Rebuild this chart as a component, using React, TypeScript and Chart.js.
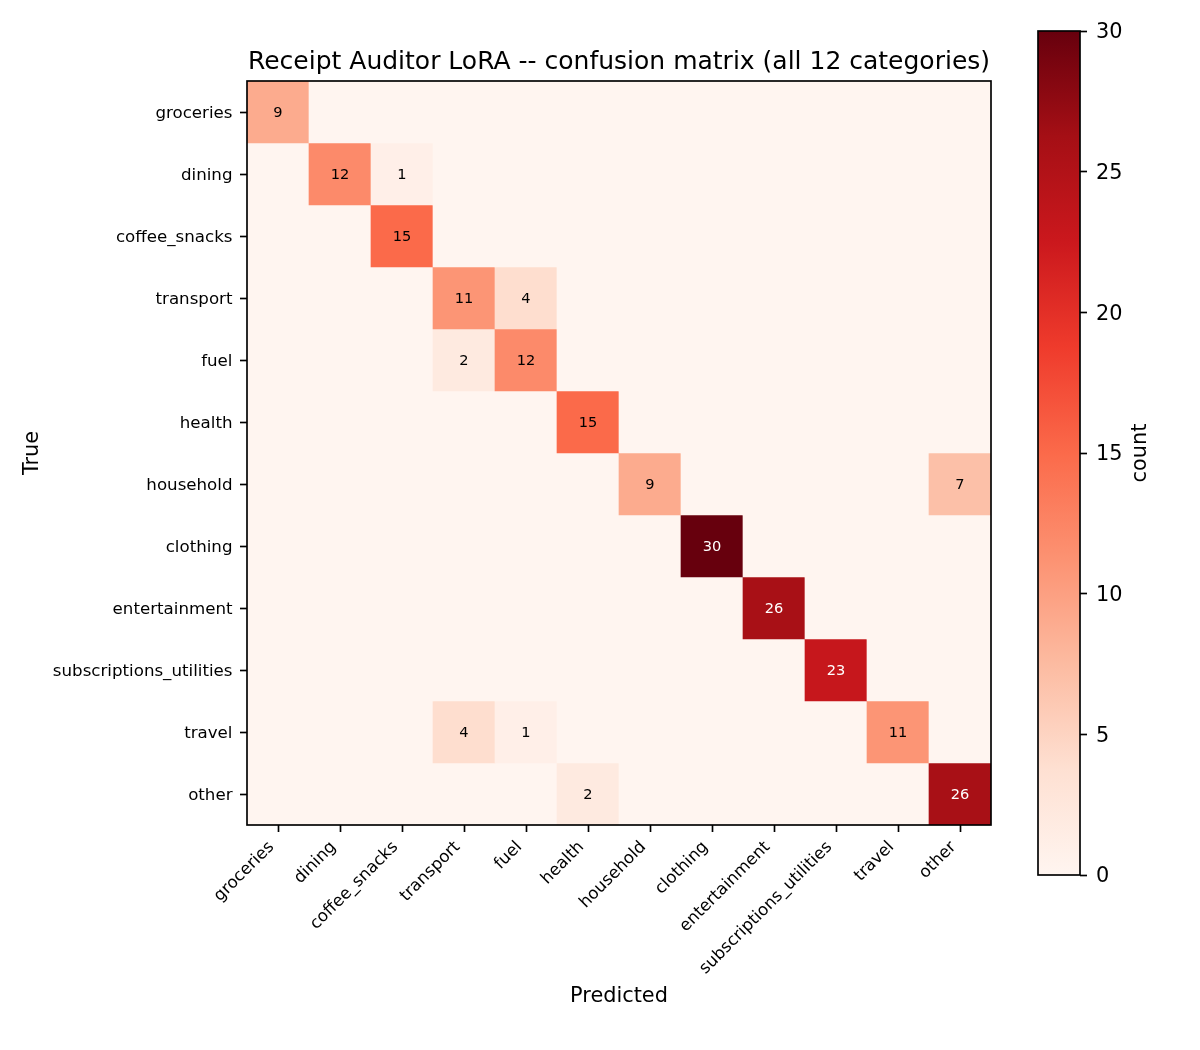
import { useEffect, useRef } from 'react';
import { Chart, registerables } from 'chart.js';

Chart.register(...registerables);

const FONT = '"DejaVu Sans", "Liberation Sans", sans-serif';
Chart.defaults.font.family = FONT;
Chart.defaults.color = '#000';

// Category order shared by both axes
const categories = [
  'groceries',
  'dining',
  'coffee_snacks',
  'transport',
  'fuel',
  'health',
  'household',
  'clothing',
  'entertainment',
  'subscriptions_utilities',
  'travel',
  'other',
];

// One row per true class; columns follow the predicted class order above
const groceriesRow = [9, 0, 0, 0, 0, 0, 0, 0, 0, 0, 0, 0];
const diningRow = [0, 12, 1, 0, 0, 0, 0, 0, 0, 0, 0, 0];
const coffeeSnacksRow = [0, 0, 15, 0, 0, 0, 0, 0, 0, 0, 0, 0];
const transportRow = [0, 0, 0, 11, 4, 0, 0, 0, 0, 0, 0, 0];
const fuelRow = [0, 0, 0, 2, 12, 0, 0, 0, 0, 0, 0, 0];
const healthRow = [0, 0, 0, 0, 0, 15, 0, 0, 0, 0, 0, 0];
const householdRow = [0, 0, 0, 0, 0, 0, 9, 0, 0, 0, 0, 7];
const clothingRow = [0, 0, 0, 0, 0, 0, 0, 30, 0, 0, 0, 0];
const entertainmentRow = [0, 0, 0, 0, 0, 0, 0, 0, 26, 0, 0, 0];
const subscriptionsRow = [0, 0, 0, 0, 0, 0, 0, 0, 0, 23, 0, 0];
const travelRow = [0, 0, 0, 4, 1, 0, 0, 0, 0, 0, 11, 0];
const otherRow = [0, 0, 0, 0, 0, 2, 0, 0, 0, 0, 0, 26];

const confusion = [
  groceriesRow,
  diningRow,
  coffeeSnacksRow,
  transportRow,
  fuelRow,
  healthRow,
  householdRow,
  clothingRow,
  entertainmentRow,
  subscriptionsRow,
  travelRow,
  otherRow,
];

const countMin = 0;
const countMax = 30;
const colorbarTicks = [0, 5, 10, 15, 20, 25, 30];

const TITLE = 'Receipt Auditor LoRA -- confusion matrix (all 12 categories)';

// Sequential "Reds" palette, evenly spaced stops
const REDS = [
  '#fff5f0', '#fee0d2', '#fcbba1', '#fc9272', '#fb6a4a',
  '#ef3b2c', '#cb181d', '#a50f15', '#67000d',
];

function hexToRgb(h: string): number[] {
  return [1, 3, 5].map((i) => parseInt(h.slice(i, i + 2), 16));
}

function reds(t: number): string {
  const c = Math.max(0, Math.min(1, t)) * (REDS.length - 1);
  const i = Math.min(Math.floor(c), REDS.length - 2);
  const f = c - i;
  const a = hexToRgb(REDS[i]);
  const b = hexToRgb(REDS[i + 1]);
  const m = a.map((v, k) => Math.round(v + (b[k] - v) * f));
  return `rgb(${m[0]}, ${m[1]}, ${m[2]})`;
}

const LINE_W = 1.67;
const TICK_LEN = 7;

const tickGrid = {
  display: true,
  drawOnChartArea: false,
  drawTicks: true,
  tickLength: TICK_LEN,
  tickWidth: LINE_W,
  tickColor: '#000',
  offset: false,
};

// Cell values and the frame around the matrix
const cellLabels = {
  id: 'cellLabels',
  afterDatasetsDraw(chart: any) {
    const { ctx, chartArea: a, scales } = chart;
    const xs = scales.x;
    const ys = scales.y;
    ctx.save();
    ctx.font = `14.58px ${FONT}`;
    ctx.textAlign = 'center';
    ctx.textBaseline = 'middle';
    confusion.forEach((row, r) => {
      row.forEach((v, c) => {
        if (v <= 0) return;
        ctx.fillStyle = v > countMax / 2 ? '#fff' : '#000';
        ctx.fillText(String(v), xs.getPixelForValue(c), ys.getPixelForValue(r) + 1);
      });
    });
    ctx.strokeStyle = '#000';
    ctx.lineWidth = LINE_W;
    ctx.strokeRect(a.left, a.top, a.right - a.left, a.bottom - a.top);
    ctx.restore();
  },
};

function matrixConfig(): any {
  const datasets = confusion.map((row, r) => ({
    label: categories[r],
    data: row.map(() => [r - 0.5, r + 0.5]),
    backgroundColor: row.map((v) => reds((v - countMin) / (countMax - countMin))),
    borderWidth: 0,
    barPercentage: 1,
    categoryPercentage: 1,
    grouped: false,
  }));
  return {
    type: 'bar',
    data: { labels: categories, datasets },
    options: {
      responsive: false,
      animation: false,
      events: [],
      layout: { padding: { left: 0, right: 9, top: 0, bottom: 0 } },
      plugins: {
        legend: { display: false },
        tooltip: { enabled: false },
        title: {
          display: true,
          text: TITLE,
          color: '#000',
          fullSize: false,
          font: { size: 25, weight: 'normal', family: FONT },
          padding: { top: 47.5, bottom: 3.5 },
        },
      },
      scales: {
        x: {
          type: 'category',
          offset: true,
          grid: tickGrid,
          border: { display: false },
          ticks: {
            autoSkip: false,
            minRotation: 45,
            maxRotation: 45,
            padding: 5.4,
            labelOffset: -6.5,
            color: '#000',
            font: { size: 16.67, family: FONT },
          },
          title: {
            display: true,
            text: 'Predicted',
            color: '#000',
            font: { size: 20.83, family: FONT },
            padding: { top: 0, bottom: 40.7 },
          },
          afterFit: (s: any) => {
            s.height = 225;
          },
        },
        y: {
          type: 'linear',
          reverse: true,
          min: -0.5,
          max: 11.5,
          afterBuildTicks: (s: any) => {
            s.ticks = categories.map((_, i) => ({ value: i }));
          },
          grid: tickGrid,
          border: { display: false },
          ticks: {
            padding: 7.5,
            labelOffset: 1.5,
            color: '#000',
            font: { size: 16.67, family: FONT },
            callback: (v: any) => categories[Number(v)] ?? '',
          },
          title: {
            display: true,
            text: 'True',
            color: '#000',
            font: { size: 20.83, family: FONT },
            padding: { top: 20.3, bottom: 0 },
          },
          afterFit: (s: any) => {
            s.width = 247;
          },
        },
      },
    },
    plugins: [cellLabels],
  };
}

// Gradient strip, outline and rotated label of the colour scale
const colorStrip = {
  id: 'colorStrip',
  beforeDatasetsDraw(chart: any) {
    const { ctx, chartArea: a, scales } = chart;
    const ys = scales.y;
    const y0 = ys.getPixelForValue(countMin);
    const y1 = ys.getPixelForValue(countMax);
    const g = ctx.createLinearGradient(0, y0, 0, y1);
    REDS.forEach((c, i) => g.addColorStop(i / (REDS.length - 1), c));
    ctx.save();
    ctx.fillStyle = g;
    ctx.fillRect(a.left, y1, a.right - a.left, y0 - y1);
    ctx.strokeStyle = '#000';
    ctx.lineWidth = LINE_W;
    ctx.strokeRect(a.left, y1, a.right - a.left, y0 - y1);
    ctx.translate(146, (a.top + a.bottom) / 2);
    ctx.rotate(-Math.PI / 2);
    ctx.font = `20.83px ${FONT}`;
    ctx.fillStyle = '#000';
    ctx.textAlign = 'center';
    ctx.textBaseline = 'alphabetic';
    ctx.fillText('count', 0, 0);
    ctx.restore();
  },
};

function colorbarConfig(): any {
  return {
    type: 'scatter',
    data: { datasets: [{ data: [] }] },
    options: {
      responsive: false,
      animation: false,
      events: [],
      layout: { padding: { left: 38, right: 0, top: 31, bottom: 175 } },
      plugins: { legend: { display: false }, tooltip: { enabled: false } },
      scales: {
        x: { display: false },
        y: {
          position: 'right',
          min: countMin,
          max: countMax,
          afterBuildTicks: (s: any) => {
            s.ticks = colorbarTicks.map((v) => ({ value: v }));
          },
          grid: tickGrid,
          border: { display: false },
          ticks: {
            padding: 9,
            labelOffset: 2,
            color: '#000',
            font: { size: 20.83, family: FONT },
          },
          afterFit: (s: any) => {
            s.width = 120;
          },
        },
      },
    },
    plugins: [colorStrip],
  };
}

export default function App() {
  const matrixRef = useRef<HTMLCanvasElement>(null);
  const barRef = useRef<HTMLCanvasElement>(null);

  useEffect(() => {
    const matrix = new Chart(matrixRef.current as HTMLCanvasElement, matrixConfig());
    const bar = new Chart(barRef.current as HTMLCanvasElement, colorbarConfig());
    return () => {
      matrix.destroy();
      bar.destroy();
    };
  }, []);

  return (
    <div
      style={{
        position: 'absolute',
        left: 0,
        top: 0,
        width: 1200,
        height: 1050,
        background: '#fff',
        overflow: 'hidden',
      }}
    >
      <canvas
        ref={matrixRef}
        width={1000}
        height={1050}
        style={{ position: 'absolute', left: 0, top: 0, width: 1000, height: 1050 }}
      />
      <canvas
        ref={barRef}
        width={200}
        height={1050}
        style={{ position: 'absolute', left: 1000, top: 0, width: 200, height: 1050 }}
      />
    </div>
  );
}
